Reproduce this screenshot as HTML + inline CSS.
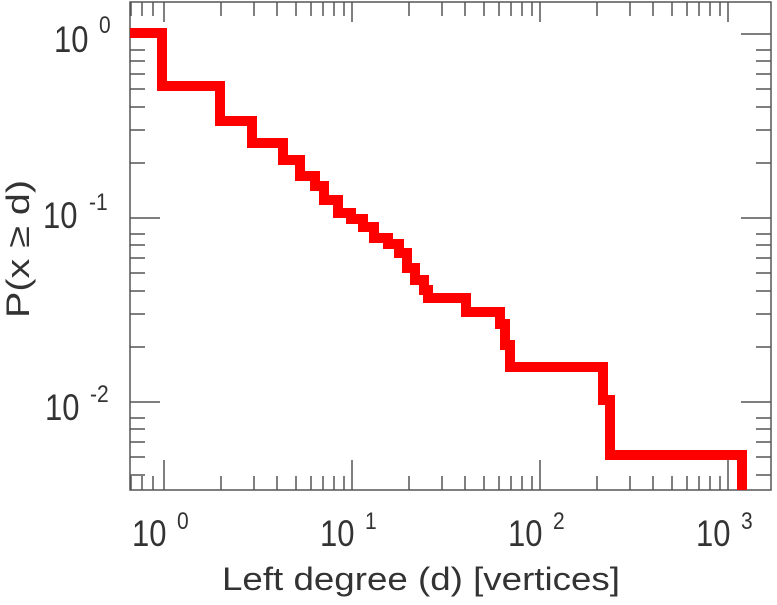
<!DOCTYPE html>
<html><head><style>body{margin:0;background:#fff}</style></head><body>
<svg width="777" height="600" xmlns="http://www.w3.org/2000/svg" font-family="Liberation Sans, sans-serif" fill="#333">
<g stroke="#555" stroke-width="1.5" fill="none">
<rect x="130" y="2" width="641" height="488"/>
<path d="
M164,490v-30 M352,490v-30 M540,490v-30 M728,490v-30
M131,490v-14 M142,490v-14 M153,490v-14
M221,490v-14 M254,490v-14 M277,490v-14 M296,490v-14 M311,490v-14 M323,490v-14 M334,490v-14 M344,490v-14
M409,490v-14 M442,490v-14 M465,490v-14 M484,490v-14 M499,490v-14 M511,490v-14 M522,490v-14 M532,490v-14
M597,490v-14 M630,490v-14 M653,490v-14 M672,490v-14 M687,490v-14 M699,490v-14 M710,490v-14 M720,490v-14
M164,2v20 M352,2v20 M540,2v20 M728,2v20
M131,2v14 M142,2v14 M153,2v14
M221,2v14 M254,2v14 M277,2v14 M296,2v14 M311,2v14 M323,2v14 M334,2v14 M344,2v14
M409,2v14 M442,2v14 M465,2v14 M484,2v14 M499,2v14 M511,2v14 M522,2v14 M532,2v14
M597,2v14 M630,2v14 M653,2v14 M672,2v14 M687,2v14 M699,2v14 M710,2v14 M720,2v14
M130,34h30 M130,218h30 M130,402h30
M130,50h15 M130,61h15 M130,74h15 M130,89h15 M130,107h15 M130,130h15 M130,163h15
M130,234h15 M130,245h15 M130,258h15 M130,273h15 M130,291h15 M130,314h15 M130,347h15
M130,418h15 M130,429h15 M130,442h15 M130,457h15 M130,475h15
M771,34h-30 M771,218h-30 M771,402h-30
M771,50h-15 M771,61h-15 M771,74h-15 M771,89h-15 M771,107h-15 M771,130h-15 M771,163h-15
M771,234h-15 M771,245h-15 M771,258h-15 M771,273h-15 M771,291h-15 M771,314h-15 M771,347h-15
M771,418h-15 M771,429h-15 M771,442h-15 M771,457h-15 M771,475h-15
"/>
</g>
<path fill="none" stroke="#ff0000" stroke-width="10" stroke-linejoin="miter" d="M130,33H162V86H220V121H252V143H283V160H300V176H315V186H324V200H338V213H351V219H363V227H374V238H388V244H399V253H407V268H415V280H424V290H428V298H466V312H500V324H505V345H510V367H603V400H610V455H742V490"/>
<g font-size="31">
<text transform="translate(54,52) scale(1,1.2)">10</text>
<text transform="translate(99,33) scale(1,1.15)" font-size="21">0</text>
<text transform="translate(43,228) scale(1,1.2)">10</text>
<text transform="translate(89,210) scale(1,1.15)" font-size="21">-1</text>
<text transform="translate(45,420) scale(1,1.2)">10</text>
<text transform="translate(90,402) scale(1,1.15)" font-size="21">-2</text>
<text transform="translate(132,546) scale(1,1.2)">10</text>
<text transform="translate(177,529) scale(1,1.15)" font-size="21">0</text>
<text transform="translate(320,546) scale(1,1.2)">10</text>
<text transform="translate(365,529) scale(1,1.15)" font-size="21">1</text>
<text transform="translate(508,546) scale(1,1.2)">10</text>
<text transform="translate(553,529) scale(1,1.15)" font-size="21">2</text>
<text transform="translate(696,546) scale(1,1.2)">10</text>
<text transform="translate(741,529) scale(1,1.15)" font-size="21">3</text>
<text x="222" y="590" font-size="32" textLength="398" lengthAdjust="spacingAndGlyphs">Left degree (d) [vertices]</text>
<text transform="translate(29,318) rotate(-90)" font-size="32" textLength="138" lengthAdjust="spacingAndGlyphs">P(x ≥ d)</text>
</g>
</svg>
</body></html>
